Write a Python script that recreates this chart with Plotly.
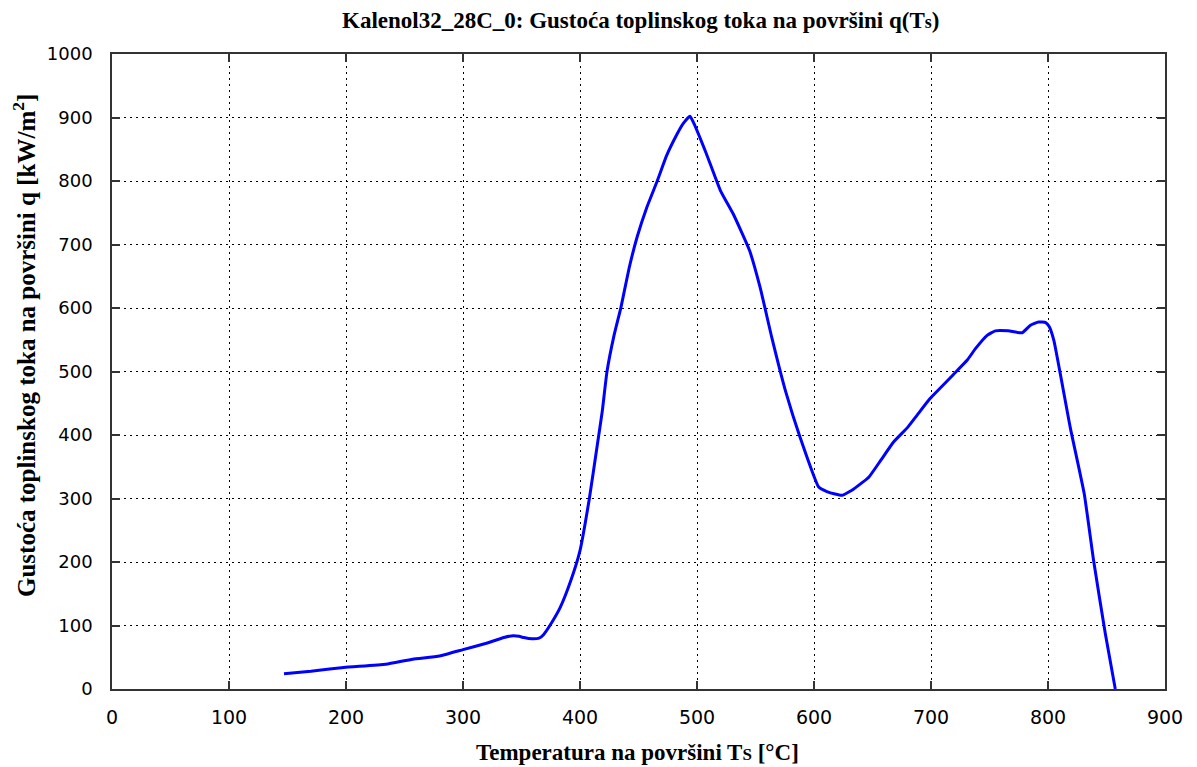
import plotly.graph_objects as go

# Surface temperature Ts [°C]
temperature = [147, 170, 198, 234, 257, 280, 300, 320, 335, 343, 348, 352, 359, 365, 369, 376, 383, 392,
               400, 408, 415, 419, 423, 429, 435, 442, 449, 457, 466, 474, 483, 488, 494,
               498, 508, 520, 531, 545, 554, 564, 576, 588, 604, 611, 618, 624, 634, 647,
               657, 668, 680, 688, 699, 709, 719, 731, 738, 748, 755, 766, 778, 785, 792,
               798, 801, 805, 819, 831, 839, 849, 857.5]
# Heat flux density q [kW/m2]
heat_flux = [24, 28, 34, 39, 47, 52, 62, 72, 81, 84, 83, 81, 79, 80, 86, 105, 128, 170,
             218, 300, 387, 437, 499, 556, 601, 663, 713, 758, 800, 840, 874, 890, 902,
             888, 843, 785, 748, 690, 632, 553, 467, 397, 318, 311, 307, 305, 315, 334,
             360, 389, 412, 431, 457, 476, 495, 518, 536, 557, 564, 564, 561, 573, 578,
             577, 571, 549, 412, 307, 202, 87, 0]

x_ticks = [0, 100, 200, 300, 400, 500, 600, 700, 800, 900]
y_ticks = [0, 100, 200, 300, 400, 500, 600, 700, 800, 900, 1000]

SERIF = "Liberation Serif, Times New Roman, serif"
SANS = "DejaVu Sans, Verdana, sans-serif"

fig = go.Figure()
fig.add_trace(go.Scatter(
    x=temperature, y=heat_flux, mode="lines",
    line=dict(color="#0000FF", width=3, shape="spline", smoothing=0.4),
    showlegend=False,
))

# page has an 8px body margin; work in screen pixels and compensate
OFF = 8
W, H = 1197 - OFF, 767 - OFF
L = 112 - OFF
T = 54 - OFF
R = W - (1165 - OFF)
B = H - (689 - OFF)
pw, ph = W - L - R, H - T - B


def px_to_paper(sx, sy):
    fx, fy = sx - OFF, sy - OFF
    return (fx - L) / pw, (H - B - fy) / ph


fig.update_layout(
    width=W, height=H,
    margin=dict(l=L, r=R, t=T, b=B),
    paper_bgcolor="white", plot_bgcolor="white",
)

tx, ty = px_to_paper(640, 21)
xx, xy = px_to_paper(637, 752)
yx, yy = px_to_paper(24, 346)
fig.add_annotation(text="Kalenol32_28C_0: Gustoća toplinskog toka na površini q(T<span style='font-size:18px'>s</span>)",
                   xref="paper", yref="paper", x=tx, y=ty, xanchor="center", yanchor="middle",
                   showarrow=False, font=dict(family=SERIF, size=23, color="black", weight="bold"))
fig.add_annotation(text="Temperatura na površini T<span style='font-size:17px'>S</span> [°C]",
                   xref="paper", yref="paper", x=xx, y=xy, xanchor="center", yanchor="middle",
                   showarrow=False, font=dict(family=SERIF, size=23, color="black", weight="bold"))
fig.add_annotation(text="Gustoća toplinskog toka na površini q [kW/m<sup>2</sup>]",
                   xref="paper", yref="paper", x=yx, y=yy, xanchor="center", yanchor="middle",
                   textangle=-90, showarrow=False,
                   font=dict(family=SERIF, size=25, color="black", weight="bold"))

axis_common = dict(
    showline=True, linecolor="#333333", linewidth=1.5, mirror="ticks",
    ticks="inside", ticklen=8, tickcolor="#333333", tickwidth=1.5,
    showgrid=True, gridcolor="black", gridwidth=1, griddash="2px,4px",
    zeroline=False, automargin=False,
)

fig.update_xaxes(
    range=[0, 900], tickvals=x_ticks, ticktext=[str(v) for v in x_ticks],
    tickfont=dict(family=SANS, size=19, color="black"),
    ticklabelstandoff=10,
    **axis_common,
)
fig.update_yaxes(
    range=[0, 1000], tickvals=y_ticks, ticktext=[str(v) for v in y_ticks],
    tickfont=dict(family=SANS, size=18, color="black"),
    ticklabelstandoff=14,
    **axis_common,
)

fig.write_html("out.html")
